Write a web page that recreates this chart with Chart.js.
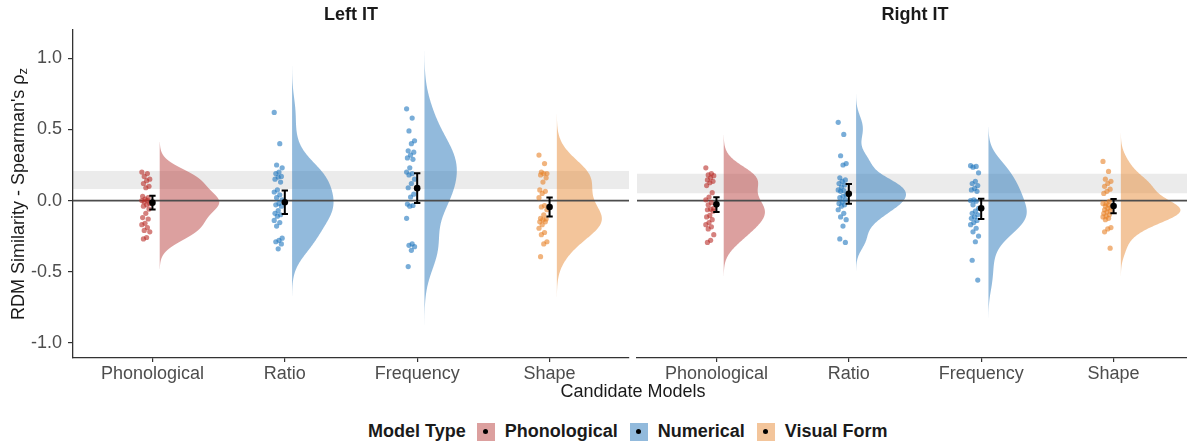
<!DOCTYPE html>
<html>
<head>
<meta charset="utf-8">
<title>RDM similarity by candidate model</title>
<script src="https://cdn.jsdelivr.net/npm/chart.js@4.4.1/dist/chart.umd.min.js"></script>
<style>
  html, body { margin: 0; padding: 0; background: #fff; overflow: hidden; }
  body { width: 1187px; height: 444px; position: relative; font-family: "Liberation Sans", Arial, sans-serif; color: #1a1a1a; }
  .wrap { position: absolute; top: 0; height: 395px; }
  #leftWrap { left: 0; width: 633px; }
  #rightWrap { left: 633px; width: 564px; }
  #yTitle { position: absolute; left: -147px; top: 183px; width: 330px; height: 22px; line-height: 22px;
            text-align: center; font-size: 18px; transform: rotate(-90deg); white-space: nowrap; }
  #yTitle sub { font-size: 13px; vertical-align: -3px; line-height: 0; }
  #xTitle { position: absolute; left: 0; width: 1266px; top: 380px; text-align: center; font-size: 18px; line-height: 22px; }
  #legend { position: absolute; left: 368px; top: 421px; display: flex; align-items: center; font-size: 18px; font-weight: bold; white-space: nowrap; }
  #legend .key { width: 18px; height: 18px; position: relative; margin: 0 10px 0 0; }
  #legend .key::after { content: ""; position: absolute; left: 6.5px; top: 6.5px; width: 5px; height: 5px; border-radius: 50%; background: #000; }
  #legend .lab { margin-right: 12px; }
  #legend .ttl { margin-right: 11px; }
</style>
</head>
<body>
<div class="wrap" id="leftWrap"><canvas id="leftIT" width="633" height="395"></canvas></div>
<div class="wrap" id="rightWrap"><canvas id="rightIT" width="564" height="395"></canvas></div>
<div id="yTitle">RDM Similarity - Spearman's ρ<sub>z</sub></div>
<div id="xTitle">Candidate Models</div>
<div id="legend">
  <span class="ttl">Model Type</span>
  <span class="key" style="background:rgba(185,66,64,0.5)"></span><span class="lab">Phonological</span>
  <span class="key" style="background:rgba(37,117,185,0.5)"></span><span class="lab">Numerical</span>
  <span class="key" style="background:rgba(232,140,56,0.5)"></span><span class="lab">Visual Form</span>
</div>
<script>
const categories = ['Phonological', 'Ratio', 'Frequency', 'Shape'];
const modelTypes = ['Phonological', 'Numerical', 'Numerical', 'Visual Form'];
const yTicks = [-1, -0.5, 0, 0.5, 1];

// per-subject similarity scores, Left IT
const leftPhon  = [0.20, 0.19, 0.17, 0.15, 0.14, 0.12, 0.10, 0.09, 0.03, 0.02, 0.01, 0.00, 0.00, -0.01, -0.02, -0.03, -0.04, -0.06, -0.09, -0.12, -0.13, -0.16, -0.17, -0.19, -0.21, -0.22, -0.26, -0.27];
const leftRatio = [0.62, 0.40, 0.25, 0.23, 0.20, 0.19, 0.17, 0.165, 0.15, 0.13, 0.075, 0.06, 0.04, 0.02, 0.005, -0.02, -0.03, -0.04, -0.07, -0.09, -0.10, -0.11, -0.14, -0.155, -0.18, -0.265, -0.28, -0.29, -0.305, -0.34];
const leftFreq  = [0.645, 0.58, 0.49, 0.42, 0.40, 0.35, 0.34, 0.32, 0.30, 0.29, 0.23, 0.20, 0.19, 0.18, 0.15, 0.12, 0.09, 0.045, 0.025, -0.025, -0.035, -0.04, -0.125, -0.305, -0.315, -0.325, -0.35, -0.465];
const leftShape = [0.32, 0.26, 0.20, 0.19, 0.19, 0.18, 0.16, 0.13, 0.075, 0.065, 0.05, 0.02, -0.035, -0.045, -0.065, -0.10, -0.125, -0.13, -0.135, -0.15, -0.15, -0.17, -0.195, -0.225, -0.24, -0.29, -0.305, -0.395];

// per-subject similarity scores, Right IT
const rightPhon  = [0.23, 0.19, 0.18, 0.175, 0.16, 0.145, 0.135, 0.125, 0.105, 0.055, 0.025, 0.005, -0.015, -0.03, -0.055, -0.06, -0.065, -0.075, -0.105, -0.115, -0.135, -0.155, -0.17, -0.185, -0.20, -0.24, -0.28, -0.295];
const rightRatio = [0.55, 0.465, 0.315, 0.26, 0.25, 0.16, 0.145, 0.135, 0.12, 0.11, 0.095, 0.075, 0.07, 0.065, 0.04, 0.03, 0.02, 0.005, -0.01, -0.02, -0.03, -0.04, -0.065, -0.09, -0.115, -0.135, -0.18, -0.27, -0.295];
const rightFreq  = [0.245, 0.24, 0.235, 0.195, 0.135, 0.12, 0.105, 0.085, 0.075, 0.065, 0.005, 0.0, -0.005, -0.03, -0.055, -0.075, -0.09, -0.10, -0.115, -0.125, -0.14, -0.155, -0.17, -0.195, -0.22, -0.25, -0.29, -0.42, -0.56];
const rightShape = [0.275, 0.205, 0.15, 0.135, 0.12, 0.10, 0.08, 0.065, 0.05, -0.005, -0.02, -0.02, -0.03, -0.04, -0.05, -0.055, -0.065, -0.075, -0.08, -0.09, -0.10, -0.11, -0.115, -0.125, -0.135, -0.19, -0.20, -0.22, -0.335];

// group means with confidence intervals
const leftMeans  = [-0.015, -0.012, 0.087, -0.045];
const leftLow    = [-0.063, -0.095, -0.017, -0.112];
const leftHigh   = [0.034, 0.071, 0.192, 0.021];
const rightMeans = [-0.027, 0.047, -0.055, -0.038];
const rightLow   = [-0.081, -0.023, -0.130, -0.089];
const rightHigh  = [0.024, 0.117, 0.013, 0.010];

// noise ceiling (lower, upper)
const leftCeiling  = [0.08, 0.21];
const rightCeiling = [0.05, 0.19];

const violinFill = { 'Phonological': 'rgba(185,66,64,0.5)', 'Numerical': 'rgba(37,117,185,0.5)', 'Visual Form': 'rgba(232,140,56,0.5)' };
const dotFill    = { 'Phonological': 'rgba(185,45,40,0.6)', 'Numerical': 'rgba(31,119,190,0.6)', 'Visual Form': 'rgba(232,130,40,0.6)' };

Chart.defaults.font.family = '"Liberation Sans", Arial, sans-serif';

const X_MIN = 0.4, X_MAX = 4.6;
const BW_ADJUST = 1.1;

function bandwidth(v) {
  const n = v.length;
  const m = v.reduce((a, b) => a + b, 0) / n;
  const sd = Math.sqrt(v.reduce((a, b) => a + (b - m) * (b - m), 0) / (n - 1));
  const s = [...v].sort((a, b) => a - b);
  const q = p => { const h = (n - 1) * p, lo = Math.floor(h); return s[lo] + (h - lo) * (s[Math.min(lo + 1, n - 1)] - s[lo]); };
  const iqr = q(0.75) - q(0.25);
  return BW_ADJUST * 0.9 * Math.min(sd, iqr / 1.34) * Math.pow(n, -0.2);
}

// gaussian kernel density, extended 3 bandwidths past the data
function density(v) {
  const bw = bandwidth(v);
  const lo = Math.min(...v) - 3 * bw, hi = Math.max(...v) + 3 * bw;
  const ys = [], ds = [];
  for (let k = 0; k < 256; k++) {
    const y = lo + (hi - lo) * k / 255;
    let s = 0;
    v.forEach(xi => { const u = (y - xi) / bw; s += Math.exp(-0.5 * u * u); });
    ys.push(y);
    ds.push(s / (v.length * bw * Math.sqrt(2 * Math.PI)));
  }
  return { ys, ds };
}

// half violins: each outline is mapped through the chart's x/y scales and
// filled back to its flat edge, just before the zero line is drawn
const halfViolins = {
  id: 'halfViolins',
  beforeDatasetDraw(chart, args, opts) {
    if (args.index !== opts.beneath) return;
    const { ctx, chartArea, scales: { x, y } } = chart;
    ctx.save();
    ctx.beginPath();
    ctx.rect(chartArea.left, chartArea.top, chartArea.right - chartArea.left, chartArea.bottom - chartArea.top);
    ctx.clip();
    opts.shapes.forEach(s => {
      const edge = x.getPixelForValue(s.x0);
      ctx.beginPath();
      ctx.moveTo(edge, y.getPixelForValue(s.ys[0]));
      s.ys.forEach((v, k) => ctx.lineTo(x.getPixelForValue(s.x0 + s.ws[k]), y.getPixelForValue(v)));
      ctx.lineTo(edge, y.getPixelForValue(s.ys[s.ys.length - 1]));
      ctx.closePath();
      ctx.fillStyle = s.color;
      ctx.fill();
    });
    ctx.restore();
  }
};

function makePanel(id, title, groups, means, low, high, ceiling, showY) {
  const datasets = [];
  const dens = groups.map(density);
  const maxD = Math.max(...dens.map(d => Math.max(...d.ds)));

  // noise ceiling band, filled sideways from the left edge
  datasets.push({
    indexAxis: 'y',
    data: [{ x: X_MAX, y: ceiling[0] }, { x: X_MAX, y: ceiling[1] }],
    fill: { value: X_MIN }, backgroundColor: 'rgba(0,0,0,0.08)', borderWidth: 0, pointRadius: 0, order: 60
  });

  const shapes = groups.map((vals, i) => ({
    x0: i + 1.055,
    ys: dens[i].ys,
    ws: dens[i].ds.map(d => 0.45 * d / maxD),
    color: violinFill[modelTypes[i]]
  }));

  groups.forEach((vals, i) => {
    const c = i + 1;
    datasets.push({
      data: vals.map((y, k) => ({ x: c - 0.05 + 0.06 * (((k * 7) % 11) / 10 - 0.5), y })),
      showLine: false, pointRadius: 2.6, pointBorderWidth: 0, pointBackgroundColor: dotFill[modelTypes[i]], order: 20
    });
  });

  const zeroIndex = datasets.length;
  datasets.push({
    data: [{ x: X_MIN, y: 0 }, { x: X_MAX, y: 0 }],
    borderColor: '#4d4d4d', borderWidth: 1.7, pointRadius: 0, fill: false, order: 30
  });

  const bars = [];
  means.forEach((m, i) => {
    const c = i + 1, w = 0.024;
    bars.push({ x: c, y: low[i] }, { x: c, y: high[i] }, { x: c, y: null },
              { x: c - w, y: low[i] }, { x: c + w, y: low[i] }, { x: c, y: null },
              { x: c - w, y: high[i] }, { x: c + w, y: high[i] }, { x: c, y: null });
  });
  datasets.push({ data: bars, borderColor: '#000', borderWidth: 2, pointRadius: 0, fill: false, spanGaps: false, order: 10 });
  datasets.push({
    data: means.map((y, i) => ({ x: i + 1, y })),
    showLine: false, pointRadius: 3.3, pointBorderWidth: 0, pointBackgroundColor: '#000', order: 5
  });

  return new Chart(document.getElementById(id), {
    type: 'line',
    data: { datasets },
    plugins: [halfViolins],
    options: {
      responsive: false,
      animation: false,
      layout: { padding: showY ? { left: 0, right: 3, top: 0, bottom: 0 } : { left: 4, right: 3, top: 0, bottom: 0 } },
      plugins: {
        legend: { display: false },
        tooltip: { enabled: false },
        halfViolins: { shapes, beneath: zeroIndex },
        title: {
          display: true, text: title, fullSize: false, color: '#1a1a1a',
          font: { size: 18, weight: 'bold', lineHeight: 1.2 },
          padding: { top: 4, bottom: 4.4 }
        }
      },
      scales: {
        x: {
          type: 'linear', min: X_MIN, max: X_MAX,
          afterBuildTicks: s => { s.ticks = [1, 2, 3, 4].map(v => ({ value: v })); },
          afterFit: s => { s.height = 37; },
          ticks: { callback: v => categories[v - 1], color: '#4d4d4d', font: { size: 18 }, padding: 1, maxRotation: 0, autoSkip: false },
          grid: { drawOnChartArea: false, drawTicks: true, tickLength: 4, color: '#333', lineWidth: 1.2 },
          border: { display: true, color: '#333', width: 1.3 }
        },
        y: {
          type: 'linear', display: showY, min: -1.108, max: 1.2,
          afterBuildTicks: s => { s.ticks = yTicks.map(v => ({ value: v })); },
          afterFit: s => { s.width = showY ? 73 : 0; },
          ticks: { callback: v => v.toFixed(1), color: '#4d4d4d', font: { size: 18 }, padding: 6 },
          grid: { drawOnChartArea: false, drawTicks: true, tickLength: 5, color: '#333', lineWidth: 1.2 },
          border: { display: true, color: '#333', width: 1.3 }
        }
      }
    }
  });
}

makePanel('leftIT', 'Left IT', [leftPhon, leftRatio, leftFreq, leftShape], leftMeans, leftLow, leftHigh, leftCeiling, true);
makePanel('rightIT', 'Right IT', [rightPhon, rightRatio, rightFreq, rightShape], rightMeans, rightLow, rightHigh, rightCeiling, false);
</script>
</body>
</html>
